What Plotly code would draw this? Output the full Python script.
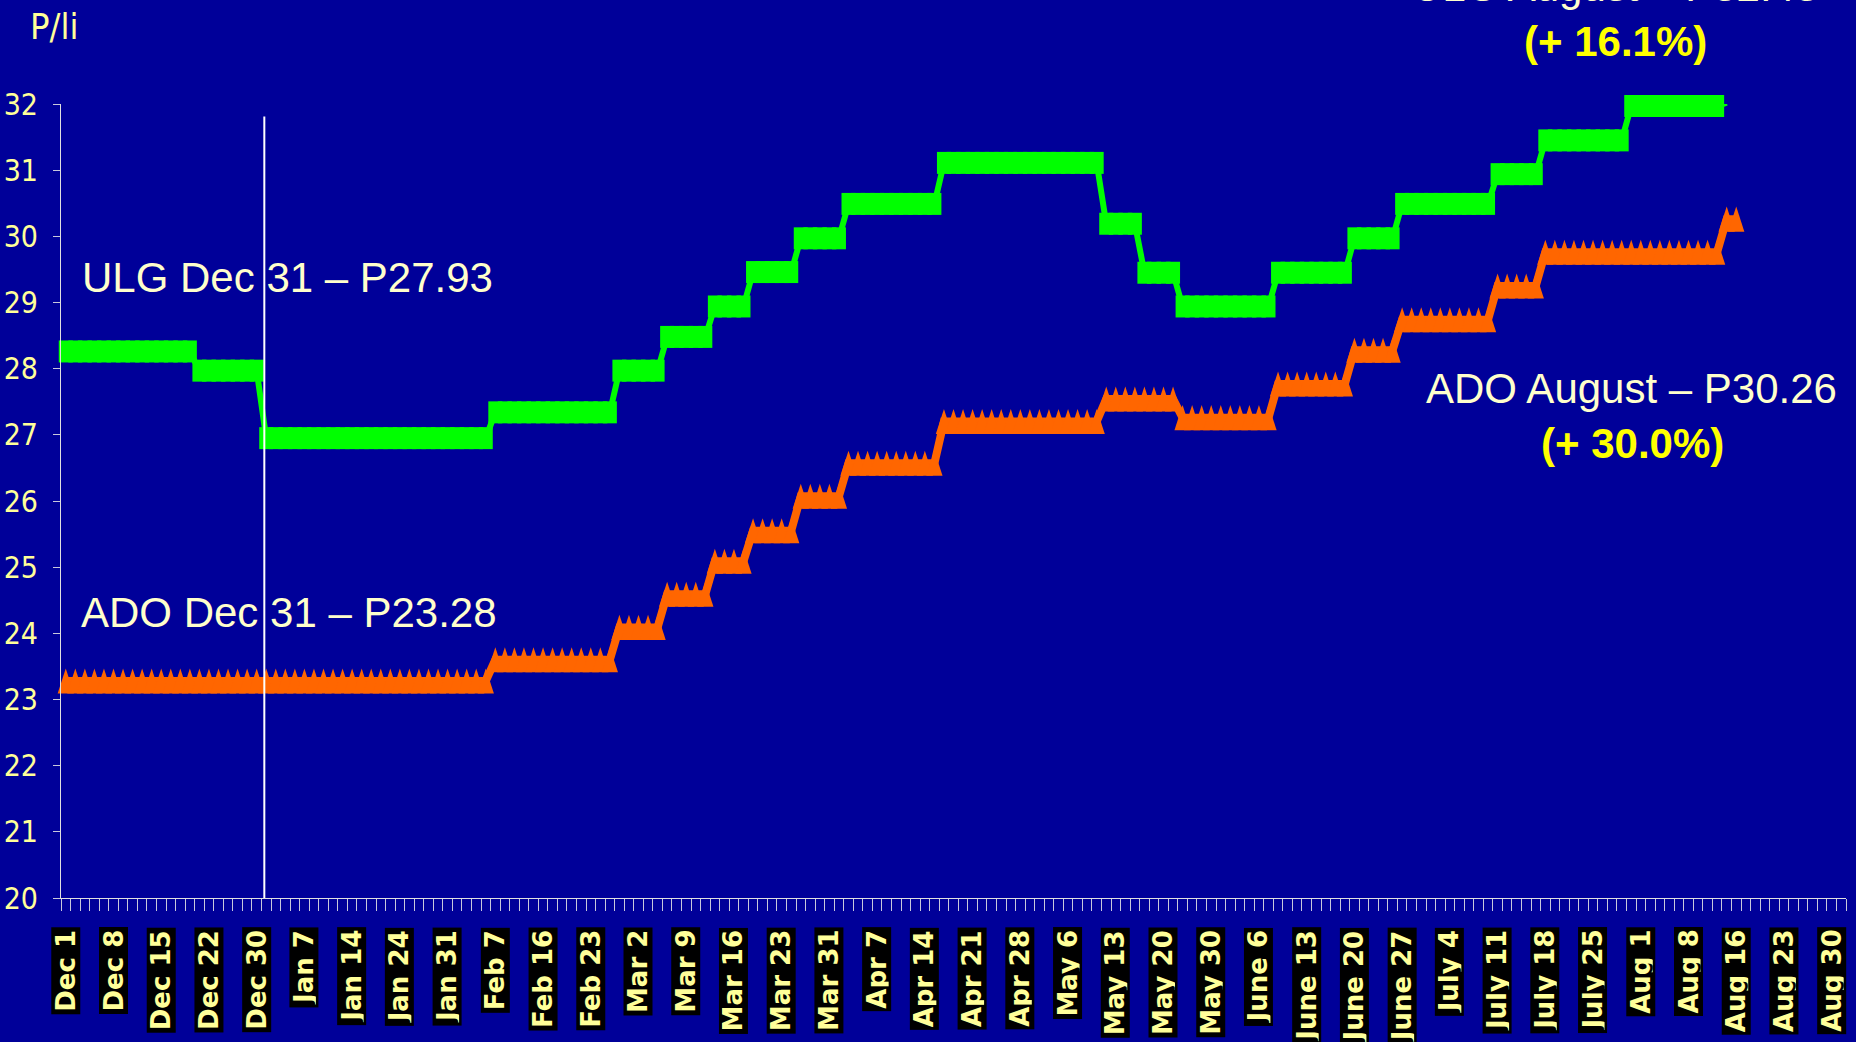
import plotly.graph_objects as go

# ---------------- data ----------------
# one category per trading day; a label every 5th day
tick_labels = ["Dec 1", "Dec 8", "Dec 15", "Dec 22", "Dec 30", "Jan 7", "Jan 14", "Jan 24",
               "Jan 31", "Feb 7", "Feb 16", "Feb 23", "Mar 2", "Mar 9", "Mar 16", "Mar 23",
               "Mar 31", "Apr 7", "Apr 14", "Apr 21", "Apr 28", "May 6", "May 13", "May 20",
               "May 30", "June 6", "June 13", "June 20", "June 27", "July 4", "July 11",
               "July 18", "July 25", "Aug 1", "Aug 8", "Aug 16", "Aug 23", "Aug 30"]
n_days = 187
label_every = 5

# ULG price levels (P/li) and how many consecutive days each level lasted
ulg_levels = [28.26, 27.97, 26.95, 27.34, 27.97, 28.48, 28.94, 29.46, 29.97, 30.49, 31.11,
              30.19, 29.45, 28.94, 29.45, 29.97, 30.49, 30.94, 31.45, 31.97, 32.02]
ulg_days = [14, 7, 24, 13, 5, 5, 4, 5, 5, 10, 17, 4, 4, 10, 8, 5, 10, 5, 9, 10, 1]

# ADO price levels (P/li) and run lengths in days
ado_levels = [23.28, 23.60, 24.09, 24.59, 25.09, 25.55, 26.07, 26.57, 27.20, 27.54, 27.26,
              27.77, 28.28, 28.74, 29.25, 29.76, 30.26]
ado_days = [45, 13, 5, 5, 4, 5, 5, 10, 17, 8, 10, 8, 5, 10, 5, 19, 2]

dec31_day = 20.8  # position of the Dec 31 reference line (between categories)


def expand(levels, days):
    out = []
    for v, n in zip(levels, days):
        out += [v] * n
    return out


ulg = expand(ulg_levels, ulg_days)
ado = expand(ado_levels, ado_days)
x_ulg = list(range(len(ulg)))
x_ado = list(range(len(ado)))

# ---------------- layout geometry ----------------
W, H = 1856, 1042
ML, MR, MT, MB = 61, 10, 104, 144
PW, PH = W - ML - MR, H - MT - MB


def px(x):
    return (x - ML) / PW


def py(y):
    return (H - MB - y) / PH


BG = "#000099"
GREEN = "#00FF00"
ORANGE = "#FF6600"
TICK_YEL = "#FFFF99"
CREAM = "#FFFFCC"
YEL = "#FFFF00"
NARROW = "Liberation Sans Narrow, DejaVu Sans Condensed, sans-serif"
ARIAL = "Liberation Sans, Arial, sans-serif"

YMIN, YMAX = 20, 32
ppu = PH / (YMAX - YMIN)
tri_size = 26.3
tri_h = 0.951 * tri_size
shift = (tri_h / 2) / ppu  # lifts arrow tips so the triangles are centred on the values

fig = go.Figure()

fig.add_trace(go.Scatter(x=x_ulg, y=ulg, mode="lines",
                         line=dict(color=GREEN, width=6), cliponaxis=False,
                         hoverinfo="skip", showlegend=False))
fig.add_trace(go.Scatter(x=x_ulg, y=ulg, mode="markers", cliponaxis=False,
                         marker=dict(symbol="line-ns", size=15.7, color=GREEN,
                                     line=dict(color=GREEN, width=14)),
                         hoverinfo="skip", showlegend=False))
fig.add_trace(go.Scatter(x=x_ado, y=ado, mode="lines",
                         line=dict(color=ORANGE, width=8), cliponaxis=False,
                         hoverinfo="skip", showlegend=False))
fig.add_trace(go.Scatter(x=x_ado, y=ado, mode="markers", yaxis="y2", cliponaxis=False,
                         marker=dict(symbol="arrow", size=tri_size, color=ORANGE,
                                     line=dict(width=0)),
                         hoverinfo="skip", showlegend=False))

annotations = []
# category labels (yellow on black boxes, rotated)
for k, lab in enumerate(tick_labels):
    annotations.append(dict(
        x=k * label_every, xref="x", y=py(927), yref="paper",
        text="<b>%s</b>" % lab, showarrow=False, textangle=-90,
        xanchor="center", yanchor="top",
        font=dict(family="DejaVu Sans", size=26, color=TICK_YEL),
        bgcolor="black", borderpad=2, height=24))

annotations += [
    dict(x=px(28), y=py(27), xref="paper", yref="paper", text="P/li", showarrow=False,
         xanchor="left", yanchor="middle",
         font=dict(family=NARROW, size=36, color=TICK_YEL)),
    dict(x=px(80), y=py(277), xref="paper", yref="paper", text="ULG Dec 31 – P27.93",
         showarrow=False, xanchor="left", yanchor="middle",
         font=dict(family=ARIAL, size=42, color=CREAM)),
    dict(x=px(79), y=py(612), xref="paper", yref="paper", text="ADO Dec 31 – P23.28",
         showarrow=False, xanchor="left", yanchor="middle",
         font=dict(family=ARIAL, size=42, color=CREAM)),
    dict(x=px(1631), y=py(388), xref="paper", yref="paper", text="ADO August – P30.26",
         showarrow=False, xanchor="center", yanchor="middle",
         font=dict(family=ARIAL, size=42, color=CREAM)),
    dict(x=px(1632), y=py(443), xref="paper", yref="paper", text="<b>(+ 30.0%)</b>",
         showarrow=False, xanchor="center", yanchor="middle",
         font=dict(family=ARIAL, size=42, color=YEL)),
    dict(x=px(1615), y=py(-14), xref="paper", yref="paper", text="ULG August – P32.43",
         showarrow=False, xanchor="center", yanchor="middle",
         font=dict(family=ARIAL, size=42, color=CREAM)),
    dict(x=px(1615), y=py(41), xref="paper", yref="paper", text="<b>(+ 16.1%)</b>",
         showarrow=False, xanchor="center", yanchor="middle",
         font=dict(family=ARIAL, size=42, color=YEL)),
]

fig.update_layout(
    width=W, height=H,
    margin=dict(l=ML, r=MR, t=MT, b=MB, pad=0, autoexpand=False),
    paper_bgcolor=BG, plot_bgcolor=BG,
    showlegend=False, hovermode=False,
    xaxis=dict(range=[-0.5, n_days - 0.5], showgrid=False, zeroline=False,
               automargin=False,
               showline=True, linecolor="#E0E0E0", linewidth=1,
               tickmode="linear", tick0=-0.5, dtick=1, ticks="outside",
               ticklen=12, tickwidth=1, tickcolor="#C8C8DC", showticklabels=False),
    yaxis=dict(range=[YMIN, YMAX], showgrid=False, zeroline=False,
               automargin=False,
               showline=True, linecolor="#E0E0E0", linewidth=1,
               tickmode="linear", tick0=20, dtick=1, ticks="outside", ticklen=7,
               tickwidth=1, tickcolor="#C8C8DC", ticklabelstandoff=9,
               tickfont=dict(family=NARROW, size=30, color=TICK_YEL)),
    yaxis2=dict(range=[YMIN - shift, YMAX - shift], overlaying="y", visible=False,
                automargin=False, showgrid=False, zeroline=False),
    annotations=annotations,
    shapes=[dict(type="line", xref="x", yref="y", x0=dec31_day, x1=dec31_day,
                 y0=19.92, y1=31.81, line=dict(color="white", width=2), layer="above")],
)

fig.write_html("out.html", config={"displayModeBar": False},
               post_script="document.body.style.margin='0px';document.body.style.overflow='hidden';")
